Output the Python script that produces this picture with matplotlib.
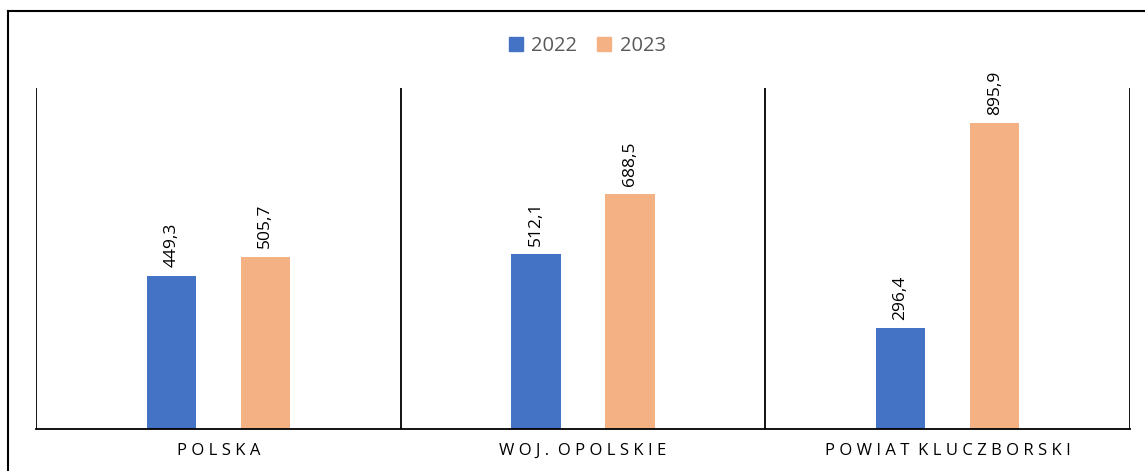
import matplotlib
matplotlib.use("Agg")
import matplotlib.pyplot as plt
from matplotlib.lines import Line2D
from matplotlib.patches import Patch
import numpy as np

categories = ["P O L S K A", "W O J .  O P O L S K I E", "P O W I A T  K L U C Z B O R S K I"]
years = ["2022", "2023"]
values_2022 = [449.3, 512.1, 296.4]
values_2023 = [505.7, 688.5, 895.9]
colors = ["#4472C4", "#F4B183"]

plt.rcParams['font.family'] = ['Open Sans', 'DejaVu Sans']

fig = plt.figure(figsize=(11.45, 4.71), dpi=100)
ax = fig.add_axes([0.0314, 0.0892, 0.9555, 0.724])

x = np.arange(len(categories))
off = 0.129
w = 0.135
for vals, dx, c in [(values_2022, -off, colors[0]), (values_2023, off, colors[1])]:
    bars = ax.bar(x + dx, vals, width=w, color=c)
    for b, v in zip(bars, vals):
        ax.annotate(f"{v:.1f}".replace(".", ","), (b.get_x() + b.get_width() / 2, v),
                    xytext=(0, 6), textcoords="offset points", rotation=90,
                    ha="center", va="bottom", fontsize=12.5, color="#000000")

ax.set_xlim(-0.5, 2.5)
ax.set_ylim(0, 1000)
for xv in [-0.5, 0.5, 1.5, 2.5]:
    ax.axvline(xv, color="black", lw=1.3)
for s in ["top", "right", "left"]:
    ax.spines[s].set_visible(False)
ax.spines["bottom"].set_linewidth(1.3)
ax.set_yticks([])
ax.set_xticks(x)
ax.set_xticklabels(categories, fontsize=12, color="#000000")
ax.tick_params(axis="x", length=0, pad=10)

handles = [Patch(color=colors[0]), Patch(color=colors[1])]
fig.legend(handles, years, loc="center", bbox_to_anchor=(0.513, 0.902), ncol=2,
           frameon=False, fontsize=14.5, labelcolor="#595959",
           handlelength=0.7, handleheight=0.7, handletextpad=0.4, columnspacing=1.0)

# outer frame
fig.add_artist(Line2D([0.007, 1.0], [0.9766, 0.9766], color="black", lw=1.5, transform=fig.transFigure))
fig.add_artist(Line2D([0.007, 0.007], [0.0, 0.9766], color="black", lw=1.5, transform=fig.transFigure))

fig.savefig("out.png", dpi=100)
